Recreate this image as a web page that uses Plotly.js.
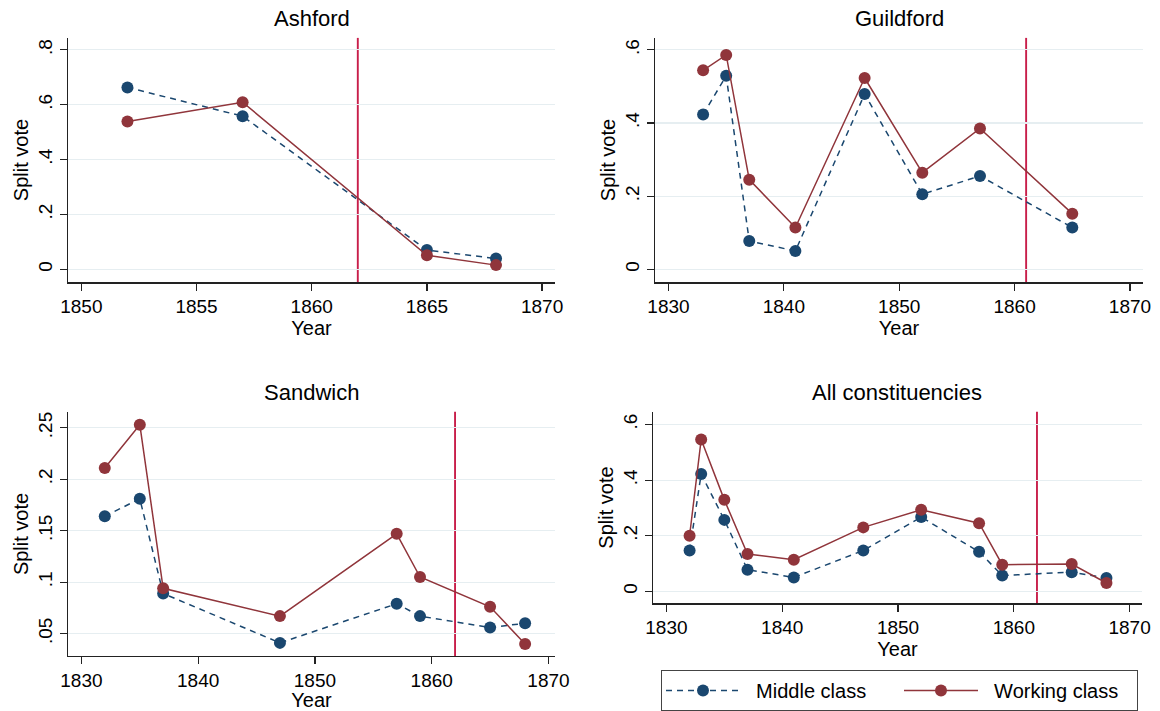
<!DOCTYPE html>
<html>
<head>
<meta charset="utf-8">
<script src="https://cdn.plot.ly/plotly-3.0.1.min.js"></script>
<style>html,body{margin:0;padding:0;background:#fff;}#chart{width:1160px;height:711px;}</style>
</head>
<body>
<div id="chart"></div>
<script>
// ---- Data ----
const panelTitles = ["Ashford", "Guildford", "Sandwich", "All constituencies"];
const seriesNames = ["Middle class", "Working class"];

const ashfordYears   = [1852, 1857, 1865, 1868];
const ashfordMiddle  = [0.663, 0.558, 0.070, 0.039];
const ashfordWorking = [0.539, 0.609, 0.051, 0.015];

const guildfordYears   = [1833, 1835, 1837, 1841, 1847, 1852, 1857, 1865];
const guildfordMiddle  = [0.423, 0.529, 0.077, 0.050, 0.479, 0.205, 0.255, 0.114];
const guildfordWorking = [0.544, 0.586, 0.245, 0.114, 0.523, 0.264, 0.385, 0.152];

const sandwichYears   = [1832, 1835, 1837, 1847, 1857, 1859, 1865, 1868];
const sandwichMiddle  = [0.164, 0.181, 0.089, 0.041, 0.079, 0.067, 0.056, 0.060];
const sandwichWorking = [0.211, 0.253, 0.094, 0.067, 0.147, 0.105, 0.076, 0.040];

const allYears   = [1832, 1833, 1835, 1837, 1841, 1847, 1852, 1857, 1859, 1865, 1868];
const allMiddle  = [0.147, 0.422, 0.257, 0.078, 0.050, 0.147, 0.267, 0.142, 0.057, 0.069, 0.048];
const allWorking = [0.200, 0.546, 0.329, 0.134, 0.114, 0.230, 0.293, 0.245, 0.096, 0.098, 0.030];

const reformYears = [1862, 1861, 1862, 1862];

const xTicksAshford = [1850, 1855, 1860, 1865, 1870];
const xTicksOther   = [1830, 1840, 1850, 1860, 1870];
const yTicks06      = [0, 0.2, 0.4, 0.6];
const yLabels06     = ["0", ".2", ".4", ".6"];
const yTicks08      = [0, 0.2, 0.4, 0.6, 0.8];
const yLabels08     = ["0", ".2", ".4", ".6", ".8"];
const yTicksSand    = [0.05, 0.1, 0.15, 0.2, 0.25];
const yLabelsSand   = [".05", ".1", ".15", ".2", ".25"];

// ---- Styles ----
const W = 1160, H = 711;
const navy = "#1a476f", maroon = "#90353b", vline = "#c81e4a";
const FONT = "Liberation Sans, Arial, sans-serif";
const GAP = "\u00a0\u00a0";

const panels = [
  {years: ashfordYears, mid: ashfordMiddle, wrk: ashfordWorking,
   xt: xTicksAshford, yt: yTicks08, yl: yLabels08,
   px: [68, 555], py: [38, 283], xr: [1849.42, 1870.56], yr: [-0.0473, 0.8436]},
  {years: guildfordYears, mid: guildfordMiddle, wrk: guildfordWorking,
   xt: xTicksOther, yt: yTicks06, yl: yLabels06,
   px: [655, 1143], py: [38, 283], xr: [1828.83, 1871.13], yr: [-0.0355, 0.6327]},
  {years: sandwichYears, mid: sandwichMiddle, wrk: sandwichWorking,
   xt: xTicksOther, yt: yTicksSand, yl: yLabelsSand,
   px: [68, 555], py: [413, 658], xr: [1828.85, 1870.56], yr: [0.0281, 0.2655]},
  {years: allYears, mid: allMiddle, wrk: allWorking,
   xt: xTicksOther, yt: yTicks06, yl: yLabels06,
   px: [653, 1142], py: [413, 605], xr: [1828.84, 1871.07], yr: [-0.043, 0.6455]}
];

const traces = [];
const layout = {
  width: W, height: H,
  margin: {l: 0, r: 0, t: 0, b: 0},
  paper_bgcolor: "#fff", plot_bgcolor: "#fff",
  font: {family: FONT, size: 20, color: "#000"},
  showlegend: true,
  legend: {
    orientation: "h", x: 661 / W, xanchor: "left", y: 1 - 672 / H, yanchor: "top",
    bordercolor: "#444", borderwidth: 1, bgcolor: "#fff",
    font: {family: FONT, size: 20, color: "#000"},
    itemwidth: 74, entrywidth: 149, entrywidthmode: "pixels",
    itemclick: false
  },
  shapes: [], annotations: []
};

panels.forEach((p, i) => {
  const n = i + 1;
  const xa = "x" + (n === 1 ? "" : n), ya = "y" + (n === 1 ? "" : n);
  traces.push({
    x: p.years, y: p.mid, xaxis: xa, yaxis: ya, type: "scatter", mode: "lines+markers",
    name: GAP + seriesNames[0], legendgroup: "m", showlegend: i === 0,
    line: {color: navy, width: 1.5, dash: "6px,5px"},
    marker: {color: navy, size: 12}
  });
  traces.push({
    x: p.years, y: p.wrk, xaxis: xa, yaxis: ya, type: "scatter", mode: "lines+markers",
    name: GAP + seriesNames[1], legendgroup: "w", showlegend: i === 0,
    line: {color: maroon, width: 1.5},
    marker: {color: maroon, size: 12}
  });
  const xk = "xaxis" + (n === 1 ? "" : n), yk = "yaxis" + (n === 1 ? "" : n);
  layout[xk] = {
    domain: [p.px[0] / W, p.px[1] / W], range: p.xr, anchor: ya,
    tickvals: p.xt, ticks: "outside", ticklen: 7, tickwidth: 1.2, tickcolor: "#222",
    showline: true, linecolor: "#222", linewidth: 1.3, showgrid: false, zeroline: false,
    tickfont: {size: 19}, title: {text: "Year", font: {size: 20}, standoff: 3},
    automargin: false, fixedrange: true
  };
  layout[yk] = {
    domain: [1 - p.py[1] / H, 1 - p.py[0] / H], range: p.yr, anchor: xa,
    tickvals: p.yt, ticktext: p.yl, tickangle: -90,
    ticks: "outside", ticklen: 7, tickwidth: 1.2, tickcolor: "#222",
    showline: true, linecolor: "#222", linewidth: 1.3,
    showgrid: true, gridcolor: "#e6eef1", gridwidth: 1.2, zeroline: false,
    tickfont: {size: 19}, title: {text: "Split vote", font: {size: 20}, standoff: 1},
    automargin: false, fixedrange: true
  };
  layout.shapes.push({
    type: "line", xref: xa, yref: ya + " domain", x0: reformYears[i], x1: reformYears[i], y0: 0, y1: 1,
    line: {color: vline, width: 1.9}, layer: "below"
  });
  layout.annotations.push({
    text: panelTitles[i], xref: "paper", yref: "paper",
    x: (p.px[0] + p.px[1]) / 2 / W, y: 1 - (p.py[0] - 19) / H,
    xanchor: "center", yanchor: "middle", showarrow: false,
    font: {family: FONT, size: 22, color: "#000"}
  });
});

Plotly.newPlot("chart", traces, layout, {displayModeBar: false, staticPlot: true});
</script>
</body>
</html>
